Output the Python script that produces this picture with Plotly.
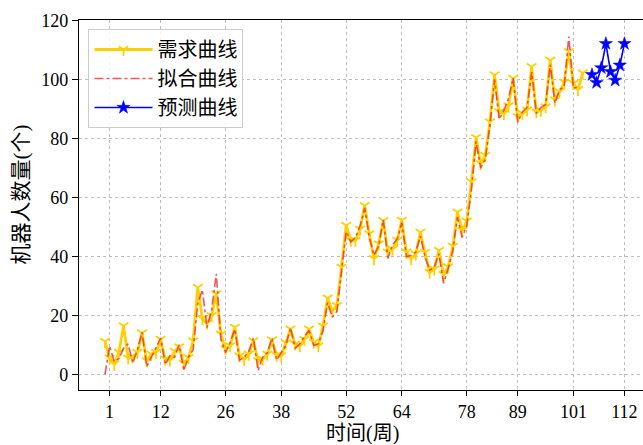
import plotly.graph_objects as go

# Weekly robot demand (weeks 0-103)
weeks = list(range(104))
demand = [
    11.3, 5.7, 3.6, 7.6, 16.6, 5.7, 6.0, 7.6, 14.2, 4.7,
    7.0, 7.6, 12.0, 5.3, 5.0, 8.0, 9.5, 3.8, 5.8, 11.5,
    29.6, 19.0, 17.5, 20.0, 27.4, 13.8, 8.7, 9.8, 16.1, 6.4,
    5.3, 7.0, 11.5, 4.8, 5.3, 7.0, 11.8, 6.6, 6.4, 10.8,
    15.5, 10.4, 9.8, 12.0, 15.5, 11.0, 9.8, 16.5, 26.0, 21.7,
    23.4, 36.4, 50.6, 45.5, 45.5, 49.3, 57.3, 47.7, 39.3, 44.3,
    52.2, 41.5, 42.5, 45.5, 52.3, 41.5, 39.3, 40.9, 48.3, 41.4,
    34.7, 35.8, 42.1, 33.9, 36.5, 43.5, 55.1, 48.8, 52.0, 65.3,
    80.3, 71.5, 74.3, 85.6, 101.5, 89.0, 88.4, 91.0, 100.3, 87.3,
    88.5, 89.6, 104.3, 89.0, 89.5, 90.7, 106.5, 93.0, 95.8, 99.0,
    109.4, 98.6, 96.5, 102.2,
]

# Fitted values (weeks 0-102)
fit_weeks = list(range(103))
fit = [
    0.2, 9.8, 4.5, 5.5, 9.0, 10.5, 4.0, 8.5, 14.5, 2.8,
    6.0, 9.0, 12.5, 3.5, 6.5, 6.0, 10.2, 1.5, 6.0, 8.5,
    24.0, 28.8, 16.0, 22.0, 34.2, 12.0, 7.5, 11.0, 15.5, 5.0,
    6.0, 8.0, 12.5, 1.5, 6.0, 7.5, 12.5, 5.0, 7.5, 10.0,
    16.0, 9.0, 10.5, 13.0, 15.0, 10.0, 10.5, 15.0, 24.5, 19.5,
    21.5, 34.5, 48.5, 45.0, 46.5, 50.5, 56.5, 46.5, 40.5, 43.5,
    52.5, 39.5, 44.0, 46.0, 51.5, 40.0, 40.5, 41.5, 47.0, 40.0,
    35.5, 36.5, 41.0, 31.0, 36.0, 42.0, 53.5, 46.5, 50.5, 62.5,
    79.0, 70.0, 73.0, 84.5, 100.0, 86.5, 89.5, 93.5, 100.5, 85.5,
    89.0, 90.5, 102.5, 88.5, 90.5, 91.5, 105.0, 92.0, 96.5, 97.5,
    114.5, 97.0, 97.5,
]

# Forecast for the following weeks
forecast_weeks = [105, 106, 107, 108, 109, 110, 111, 112]
forecast = [101.6, 98.9, 103.9, 112.1, 102.6, 99.7, 104.8, 112.1]

x_ticks = [1, 12, 26, 38, 52, 64, 78, 89, 101, 112]
y_ticks = [0, 20, 40, 60, 80, 100, 120]

W, H = 643, 445
ML, MR, MT, MB = 78.5, 0, 20, 55
plot_w = W - ML - MR
plot_h = H - MT - MB

serif = "Liberation Serif, Noto Sans CJK SC, serif"
cjk = "Noto Sans CJK SC, sans-serif"

fig = go.Figure()

fig.add_trace(go.Scatter(
    x=weeks, y=demand, mode="lines+markers", name="需求曲线",
    line=dict(color="#FFD000", width=2.8),
    marker=dict(symbol="y-down", size=8, color="#FFD000",
                line=dict(color="#FFD000", width=1.8)),
))

fig.add_trace(go.Scatter(
    x=fit_weeks, y=fit, mode="lines", name="拟合曲线",
    line=dict(color="rgba(238,45,45,0.8)", width=1.6, dash="dashdot"),
))

fig.add_trace(go.Scatter(
    x=forecast_weeks, y=forecast, mode="lines+markers", name="预测曲线",
    line=dict(color="#0000FF", width=1.6),
    marker=dict(symbol="star", size=10, color="#0000FF",
                line=dict(color="#0000FF", width=0.5)),
))

axis_common = dict(
    showline=True, linecolor="black", linewidth=1.2,
    ticks="outside", tickcolor="black", tickwidth=1.1,
    showgrid=True, gridcolor="#bdbdbd", gridwidth=0.7, griddash="dot",
    zeroline=False,
    tickfont=dict(family=serif, size=18, color="black"),
)

fig.update_xaxes(
    range=[-5.6, 116.0], tickmode="array", tickvals=x_ticks,
    ticktext=[str(t) for t in x_ticks], ticklen=5, mirror=True,
    **axis_common,
)
fig.update_yaxes(
    range=[-5.1, 120.1], tickmode="array", tickvals=y_ticks,
    ticklen=6, mirror=False,
    **axis_common,
)

fig.add_annotation(
    text="时间(周)", xref="paper", yref="paper",
    x=(362 - ML) / plot_w, y=(H - MB - 433) / plot_h,
    xanchor="center", yanchor="middle", showarrow=False,
    font=dict(family=serif, size=20, color="black"),
)
fig.add_annotation(
    text="机器人数量(个)", xref="paper", yref="paper",
    x=(20 - ML) / plot_w, y=(H - MB - 195) / plot_h,
    xanchor="center", yanchor="middle", showarrow=False, textangle=-90,
    font=dict(family=serif, size=21, color="black"),
)

fig.update_layout(
    width=W, height=H,
    margin=dict(l=ML, r=MR, t=MT, b=MB, pad=0),
    paper_bgcolor="white", plot_bgcolor="white",
    showlegend=True,
    legend=dict(
        x=(88 - ML) / plot_w, y=(H - MB - 29) / plot_h,
        xanchor="left", yanchor="top",
        bgcolor="rgba(255,255,255,0.85)", bordercolor="#cccccc", borderwidth=1,
        font=dict(family=cjk, size=20, color="black"),
        itemwidth=58,
    ),
)

fig.write_html("out.html")
